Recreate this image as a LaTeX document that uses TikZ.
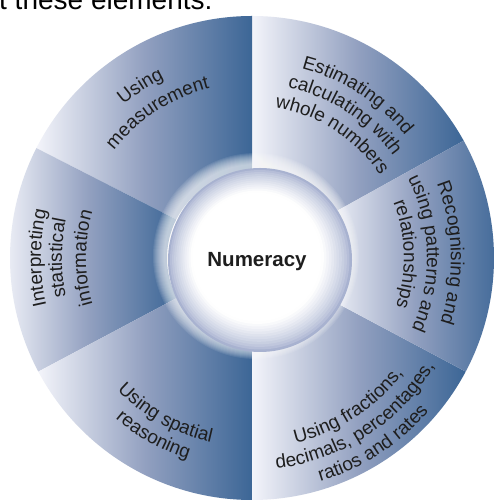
\documentclass[tikz,border=0pt]{standalone}
\usepackage{fontspec}
\setmainfont{Liberation Sans}
\usetikzlibrary{decorations.text,calc}
\definecolor{segLight}{RGB}{243,244,250}
\definecolor{segMid}{RGB}{146,160,192}
\definecolor{segDark}{RGB}{60,102,150}
\definecolor{hubEdge}{RGB}{168,178,208}
\definecolor{txt}{RGB}{30,30,30}
\newcommand\segfont{\fontsize{19}{22}\selectfont}
\tikzset{
  segshade/.style={left color=segLight, right color=segDark, middle color=segMid},
}
\newcommand\seg[2]{\path[segshade] ($(O)+(#1:85pt)$) arc[start angle=#1, end angle=#2, radius=85pt] -- ($(O)+(#2:242pt)$) arc[start angle=#2, end angle=#1, radius=242pt] -- cycle;}
% clockwise arc: letter tops point outward
\newcommand\cwtext[3]{\path[decorate, decoration={text along path, text align=center, text color=txt, text={|\segfont|#3}}] ($(O)+({#1+45}:#2pt)$) arc[start angle={#1+45}, end angle={#1-45}, radius=#2pt];}
% counter-clockwise arc: letter tops point inward
\newcommand\ccwtext[3]{\path[decorate, decoration={text along path, text align=center, text color=txt, text={|\segfont|#3}}] ($(O)+({#1-45}:#2pt)$) arc[start angle={#1-45}, end angle={#1+45}, radius=#2pt];}
\begin{document}
\begin{tikzpicture}[x=1pt,y=1pt]
\useasboundingbox (0,0) rectangle (494,502);
\clip (0,0) rectangle (494,502);
\fill[white] (0,0) rectangle (494,502);
\coordinate (O) at (252,244);
\coordinate (H) at (260,242);
% intro text (cut off at the top)
\node[anchor=base west, inner sep=0, font=\fontsize{28}{30}\selectfont, text=black] (intro) at (-1,492) {t these elements:};
% segments
\seg{29}{90}
\seg{90}{153}
\seg{153}{208}
\seg{208}{270}
\seg{270}{332}
\seg{-28}{29}
% soft halo round the hub
\foreach \k in {0,...,11} {
  \pgfmathsetmacro\hr{103-\k}
  \fill[white, opacity=0.09] ($(H)+(-4,4)$) circle[radius=\hr pt];
}
% hub: concentric circles, lit from the upper left
\foreach \i in {0,...,40} {
  \pgfmathsetmacro\tt{1-\i/40}
  \pgfmathsetmacro\rr{92*\tt}
  \pgfmathsetmacro\pw{min(100,100*((1-\tt)/0.28)^0.75)}
  \pgfmathsetmacro\dx{-10*(1-\tt)}
  \colorlet{hubtmp}{white!\pw!hubEdge}
  \fill[hubtmp] ($(H)+(\dx,-\dx)$) circle[radius=\rr pt];
}
\node[font=\fontsize{20.5}{24}\selectfont\bfseries, text=txt] (numeracy) at (257,240) {Numeracy};
% labels
\cwtext{57}{196}{Estimating and}
\cwtext{57}{174}{calculating with}
\cwtext{57}{152}{whole numbers}
\cwtext{123}{200}{Using}
\cwtext{123}{175}{measurement}
\cwtext{180}{211}{Interpreting}
\cwtext{180}{190}{statistical}
\cwtext{180}{166}{information}
\cwtext{1.5}{199}{Recognising and}
\cwtext{1.5}{175}{using patterns and}
\cwtext{1.5}{152}{relationships}
\ccwtext{241}{189}{Using spatial}
\ccwtext{241}{211}{reasoning}
\ccwtext{-57}{190}{Using fractions,}
\ccwtext{-57}{212}{decimals, percentages,}
\ccwtext{-57}{234}{ratios and rates}
\end{tikzpicture}
\end{document}
